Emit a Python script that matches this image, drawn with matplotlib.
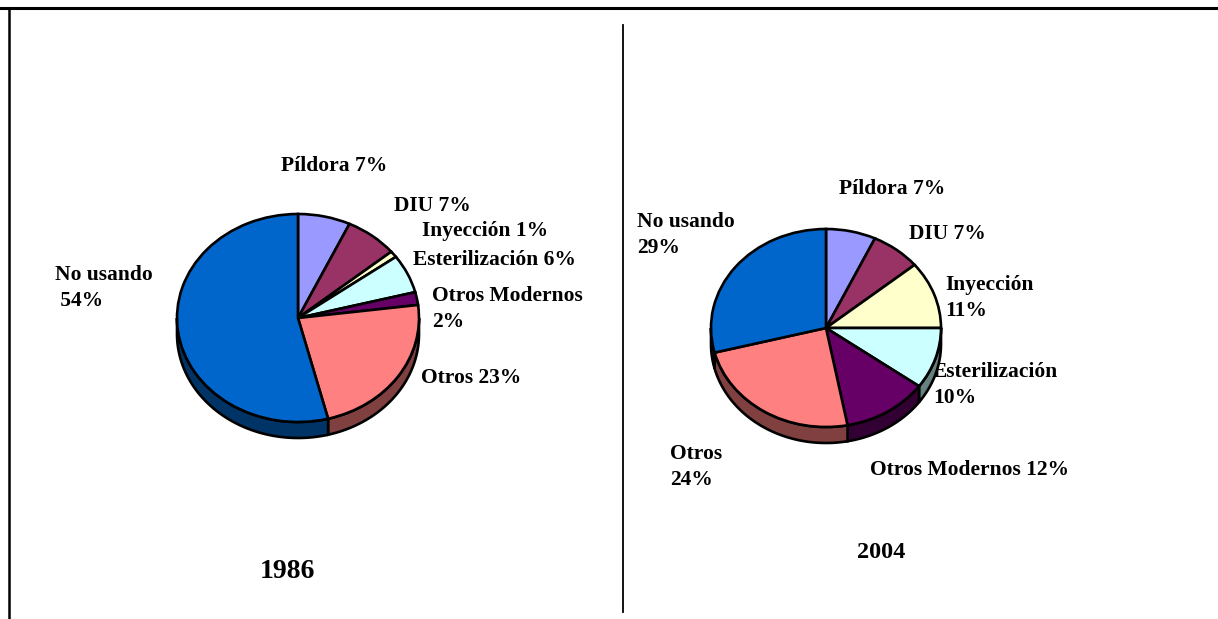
import numpy as np
import matplotlib.pyplot as plt
from matplotlib.patches import Polygon
from matplotlib.colors import to_rgb

plt.rcParams['font.family'] = ['Liberation Serif', 'DejaVu Serif']
plt.rcParams['font.weight'] = 'bold'

categorias = ['Píldora', 'DIU', 'Inyección', 'Esterilización',
              'Otros Modernos', 'Otros', 'No usando']
valores_1986 = [7, 7, 1, 6, 2, 23, 54]
valores_2004 = [7, 7, 11, 10, 12, 24, 29]
colores = ['#9999FF', '#993366', '#FFFFCC', '#CCFFFF',
           '#660066', '#FF8080', '#0066CC']

# separador entre nombre y porcentaje en cada etiqueta
sep_1986 = [' ', ' ', ' ', ' ', '\n', ' ', '\n ']
sep_2004 = [' ', ' ', '\n', '\n', ' ', '\n', '\n']

W, H = 1218, 619
fig = plt.figure(figsize=(W / 100, H / 100), dpi=100)

fondo = fig.add_axes([0, 0, 1, 1])
fondo.set_xlim(0, W)
fondo.set_ylim(H, 0)
fondo.axis('off')
fondo.plot([0, W], [8, 8], color='black', lw=2.2)
fondo.plot([9, 9], [8, H], color='black', lw=1.8)
fondo.plot([623, 623], [25, 612], color='black', lw=1.3)


def oscuro(c):
    return tuple(v * 0.5 for v in to_rgb(c))


def pastel3d(cx, cy, rx, ry, prof, valores):
    ax = fig.add_axes([(cx - 1.2 * rx) / W, 1 - (cy + 1.4 * ry) / H,
                       2.4 * rx / W, 2.6 * ry / H])
    ax.set_xlim(-1.2, 1.2)
    ax.set_ylim(-1.4, 1.2)
    ax.axis('off')
    d = prof / ry
    total = sum(valores)
    acum = np.cumsum([0] + list(valores)) / total
    for i, col in enumerate(colores):
        hi = 90 - acum[i] * 360
        lo = 90 - acum[i + 1] * 360
        s, e = max(lo, -180), min(hi, 0)
        if s < e:
            t = np.radians(np.linspace(s, e, 60))
            arriba = np.column_stack([np.cos(t), np.sin(t)])
            abajo = np.column_stack([np.cos(t[::-1]), np.sin(t[::-1]) - d])
            ax.add_patch(Polygon(np.vstack([arriba, abajo]), closed=True,
                                 facecolor=oscuro(col), edgecolor='black',
                                 lw=1.9, zorder=1))
    wedges, _ = ax.pie(valores, colors=colores, startangle=90,
                       counterclock=False, radius=1,
                       wedgeprops=dict(edgecolor='black', linewidth=1.9))
    for w in wedges:
        w.set_zorder(2)
    ax.set_aspect('auto')
    ax.set_xlim(-1.2, 1.2)
    ax.set_ylim(-1.4, 1.2)


pastel3d(298, 318, 121, 104, 16, valores_1986)
pastel3d(826, 328, 115, 99, 16, valores_2004)

fs = 15.5
et_1986 = [c + s + f'{v}%' for c, s, v in zip(categorias, sep_1986, valores_1986)]
et_2004 = [c + s + f'{v}%' for c, s, v in zip(categorias, sep_2004, valores_2004)]

# posiciones de las etiquetas (pixeles)
pos_1986 = [(334, 166, 'center'), (432, 206, 'center'), (485, 231, 'center'),
            (494, 260, 'center'), (432, 309, 'left'), (471, 378, 'center'),
            (55, 288, 'left')]
pos_2004 = [(892, 189, 'center'), (947, 234, 'center'), (945, 298, 'left'),
            (933, 385, 'left'), (970, 470, 'center'), (670, 467, 'left'),
            (637, 235, 'left')]

for txt, (x, y, ha) in zip(et_1986, pos_1986):
    fondo.text(x, y, txt, ha=ha, va='center', fontsize=fs,
               fontweight='bold', linespacing=1.35)
for txt, (x, y, ha) in zip(et_2004, pos_2004):
    fondo.text(x, y, txt, ha=ha, va='center', fontsize=fs,
               fontweight='bold', linespacing=1.35)

fondo.text(287, 572, '1986', ha='center', va='center', fontsize=20,
           fontweight='bold')
fondo.text(881, 553, '2004', ha='center', va='center', fontsize=17.5,
           fontweight='bold')

plt.savefig('out.png', dpi=100)
